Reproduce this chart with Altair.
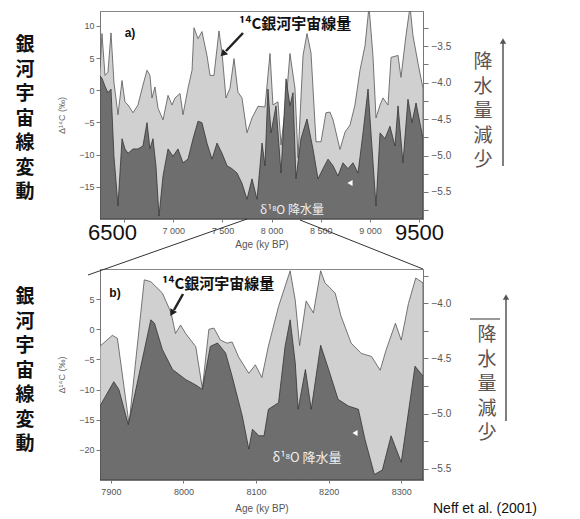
import altair as alt
import pandas as pd

# ---------------- data ----------------
a_c14_age = [6255, 6275, 6306, 6336, 6367, 6397, 6438, 6479, 6509, 6540, 6591, 6641, 6692, 6733, 6763,
             6784, 6814, 6845, 6896, 6947, 6987, 7018, 7069, 7099, 7150, 7191, 7211, 7252, 7292, 7343,
             7374, 7414, 7465, 7496, 7536, 7577, 7618, 7658, 7699, 7750, 7801, 7862, 7933, 7984, 8014,
             8065, 8096, 8147, 8187, 8238, 8269, 8320, 8360, 8401, 8452, 8503, 8553, 8594, 8625, 8696,
             8747, 8798, 8848, 8899, 8950, 8991, 9031, 9062, 9103, 9133, 9184, 9215, 9286, 9316, 9367,
             9408, 9438, 9489, 9540]
a_c14_val = [2.8, 8.8, 2.3, 2.8, 8.9, 1.2, -3.8, 1.5, -1.8, -2.3, -3.5, -2.3, 0.8, 3.1, 2.3,
             -1.2, 0.5, -2.8, -4.6, -0.8, -2.3, -1.2, -0.5, -3.8, 0.3, 3.1, 9.7, 8.0, 9.1, 5.4,
             2.3, 2.3, 9.2, 5.8, -1.2, 0.3, 4.9, -0.3, -1.2, -6.6, -4.3, -2.5, -2.6, 5.7, -2.3,
             -1.8, -8.5, -1.8, 5.7, 0.3, -10.5, 5.4, 8.8, 5.8, -8.0, -8.0, -3.5, -3.4, -4.6, -9.2,
             -6.5, -5.4, -2.3, 3.1, 6.9, 13.0, 5.4, -4.3, -2.3, -1.2, -2.3, 5.1, 5.4, 2.0, 8.5,
             13.0, 8.5, 4.2, 0.3]

a_o18_age = [6255, 6275, 6306, 6336, 6367, 6397, 6438, 6479, 6509, 6540, 6591, 6641, 6692, 6733, 6763,
             6794, 6824, 6855, 6896, 6947, 6997, 7048, 7099, 7150, 7201, 7252, 7292, 7343, 7394, 7445,
             7496, 7547, 7597, 7648, 7699, 7750, 7801, 7852, 7903, 7933, 7963, 7994, 8045, 8096, 8147,
             8187, 8218, 8248, 8299, 8360, 8421, 8472, 8523, 8574, 8625, 8675, 8726, 8777, 8828, 8879,
             8930, 8981, 9011, 9062, 9103, 9153, 9204, 9255, 9286, 9336, 9387, 9428, 9469, 9540]
a_o18_val = [-3.91, -3.94, -4.05, -4.14, -4.09, -5.01, -5.69, -4.77, -4.91, -4.97, -4.91, -4.91, -4.87, -4.55, -4.91,
             -4.77, -5.14, -5.83, -5.28, -4.91, -5.01, -4.91, -5.10, -5.05, -4.77, -4.53, -4.55, -4.83, -5.05, -4.83,
             -4.97, -5.14, -5.18, -5.24, -5.38, -5.60, -5.32, -5.60, -4.83, -5.14, -4.09, -4.69, -4.32, -5.24, -3.95,
             -4.32, -4.14, -5.32, -4.77, -4.50, -4.91, -5.32, -5.18, -5.05, -5.14, -5.28, -5.10, -5.18, -5.10, -5.24,
             -4.69, -4.09, -4.69, -5.69, -4.69, -4.77, -4.60, -4.87, -4.32, -5.10, -4.23, -4.55, -4.28, -4.77]

b_c14_age = [7885, 7902, 7909, 7925, 7946, 7955, 7971, 7983, 7989, 7996, 8003, 8017, 8026, 8035, 8042,
             8051, 8060, 8067, 8076, 8090, 8099, 8108, 8117, 8131, 8147, 8154, 8160, 8169, 8179, 8189,
             8195, 8209, 8217, 8231, 8245, 8259, 8271, 8279, 8292, 8300, 8310, 8320, 8330]
b_c14_val = [-2.8, -1.0, -1.5, -15.7, 8.2, 7.9, 6.0, 2.7, -0.7, 0.7, -0.7, -2.9, -9.8, 0.0, 0.2,
             -1.8, -2.3, -2.1, -4.6, -7.3, -5.9, -8.0, -2.8, 3.8, 9.7, 4.8, -2.7, 4.7, 2.7, 9.7,
             7.7, 6.0, 2.2, -2.3, -4.0, -4.5, -6.8, -3.5, 1.0, -1.8, 4.3, 8.5, 7.7]

b_o18_age = [7885, 7904, 7911, 7924, 7955, 7960, 7971, 7985, 8003, 8017, 8026, 8037, 8047, 8058, 8067,
             8081, 8090, 8095, 8104, 8111, 8117, 8131, 8140, 8147, 8154, 8158, 8168, 8176, 8189, 8200,
             8213, 8227, 8241, 8250, 8263, 8274, 8286, 8300, 8319, 8330]
b_o18_val = [-4.93, -4.71, -4.78, -5.10, -4.15, -4.18, -4.42, -4.60, -4.69, -4.74, -4.78, -4.39, -4.36, -4.45, -4.66,
             -5.02, -5.32, -5.14, -5.20, -5.20, -4.96, -4.90, -4.39, -4.15, -4.54, -4.96, -4.60, -4.96, -4.38, -4.60,
             -4.87, -4.93, -4.96, -5.23, -5.55, -5.51, -5.20, -5.44, -4.57, -4.66]

a_x_ticks = [6500, 7000, 7500, 8000, 8500, 9000, 9500]
b_x_ticks = [7900, 8000, 8100, 8200, 8300]
a_c14_ticks = [-15, -10, -5, 0, 5, 10]
b_c14_ticks = [-20, -15, -10, -5, 0, 5]
a_o18_ticks = [-5.75, -5.5, -5.25, -5.0, -4.75, -4.5, -4.25, -4.0, -3.75, -3.5, -3.25]
b_o18_ticks = [-5.5, -5.25, -5.0, -4.75, -4.5, -4.25, -4.0, -3.75]

label_cosmic = "銀\n河\n宇\n宙\n線\n変\n動"
label_precip = "降\n水\n量\n減\n少"
label_c14 = "¹⁴C銀河宇宙線量"
label_o18 = "δ¹⁸O 降水量"
label_axis_c14 = "Δ¹⁴C (‰)"
label_age = "Age (ky BP)"
label_source = "Neff et al. (2001)"

# ---------------- style ----------------
LIGHT_FILL, LIGHT_LINE = "#d0d0d0", "#555555"
DARK_FILL, DARK_LINE = "#6e6e6e", "#333333"
FONT = "Liberation Sans"
CJK = "Noto Sans CJK JP"
GREY = "#555555"


def txt(s, x, y, size, color="#111111", font=CJK, weight="normal", align="center",
        baseline="middle", line_height=None):
    kw = dict(fontSize=size, color=color, font=font, fontWeight=weight, align=align, baseline=baseline)
    if line_height:
        kw.update(lineBreak="\n", lineHeight=line_height)
    return alt.Chart(pd.DataFrame({"t": [s]})).mark_text(**kw).encode(
        x=alt.value(x), y=alt.value(y), text="t:N")


def seg(x1, y1, x2, y2, color="#222222", width=1.0):
    return alt.Chart(pd.DataFrame({"k": [0]})).mark_rule(color=color, strokeWidth=width).encode(
        x=alt.value(x1), y=alt.value(y1), x2=alt.value(x2), y2=alt.value(y2))


def head(x, y, angle, color="#222222", size=50, shape="triangle-up"):
    return alt.Chart(pd.DataFrame({"k": [0]})).mark_point(
        shape=shape, filled=True, color=color, size=size, angle=angle, opacity=1).encode(
        x=alt.value(x), y=alt.value(y))


def panel(c14_age, c14_val, o18_age, o18_val, xdom, xticks, xlabel_expr, big_test,
          c14dom, c14ticks, o18dom, o18ticks, W, H, title_y, extra):
    c14 = pd.DataFrame({"age": c14_age, "v": c14_val})
    o18 = pd.DataFrame({"age": o18_age, "v": o18_val})
    xaxis = alt.Axis(
        values=xticks, labelExpr=xlabel_expr, title=label_age, tickSize=3,
        labelFontSize={"condition": {"test": big_test, "value": 22}, "value": 9},
        labelColor={"condition": {"test": big_test, "value": "#111111"}, "value": GREY},
        labelPadding={"condition": {"test": big_test, "value": 0}, "value": 4},
        labelOffset={"condition": {"test": "datum.value == 6500", "value": -12}, "value": 0},
        labelOverlap=False, labelFlush=False,
        titleY=title_y, titleBaseline="middle", titleFontSize=10, titleColor=GREY,
        titleFontWeight="normal")
    x = alt.X("age:Q", scale=alt.Scale(domain=xdom, nice=False, zero=False), axis=xaxis)
    light = alt.Chart(c14).mark_area(
        fill=LIGHT_FILL, stroke=LIGHT_LINE, strokeWidth=0.8, clip=True).encode(
        x=x,
        y=alt.Y("v:Q", scale=alt.Scale(domain=c14dom, nice=False, zero=False),
                axis=alt.Axis(values=c14ticks, title=label_axis_c14, tickSize=4, labelFontSize=9,
                              labelColor=GREY, titleFontSize=9, titleColor="#666666",
                              titleFontWeight="normal", titlePadding=12)),
        y2=alt.datum(c14dom[0]))
    dark = alt.Chart(o18).mark_area(
        fill=DARK_FILL, stroke=DARK_LINE, strokeWidth=0.8, clip=True).encode(
        x=x,
        y=alt.Y("v:Q", scale=alt.Scale(domain=o18dom, nice=False, zero=False),
                axis=alt.Axis(orient="right", values=o18ticks, title=None, tickSize=5,
                              labelExpr="(datum.value * 2) % 1 == 0 ? format(datum.value, '.1f') : ''",
                              labelFontSize=10, labelColor=GREY, labelPadding=3)),
        y2=alt.datum(o18dom[0]))
    return alt.layer(light, dark, *extra).resolve_scale(y="independent").properties(width=W, height=H)


a_extra = [
    txt("a)", 30, 22, 12, font=FONT, weight="bold"),
    txt(label_c14, 195, 13, 15, weight="bold"),
    seg(143, 22, 126, 40, width=2.5), head(123, 43, 225, size=60),
    txt(label_o18, 192, 199, 12, color="#eeeeee"),
    head(250, 172, 0, color="#ffffff", size=35, shape="triangle-left"),
    txt(label_precip, 383, 42, 19, color="#5c5250", baseline="top", line_height=24.5),
    seg(403, 155, 403, 32, color=GREY, width=1.5), head(403, 30, 0, color=GREY, size=40),
    txt(label_cosmic, -75, 25, 19, weight="bold", baseline="top", line_height=24.5),
]
b_extra = [
    txt("b)", 15, 24, 12, font=FONT, weight="bold"),
    txt(label_c14, 118, 15, 15, weight="bold"),
    seg(83, 25, 74, 41, width=2.5), head(72, 44, 210, size=60),
    txt(label_o18, 207, 189, 13, color="#eeeeee"),
    head(255, 164, 0, color="#ffffff", size=35, shape="triangle-left"),
    txt(label_precip, 387, 57, 19, color="#5c5250", baseline="top", line_height=24.5),
    seg(370, 50, 400, 50, color=GREY, width=1.2),
    seg(406, 152, 406, 30, color=GREY, width=1.5), head(406, 28, 0, color=GREY, size=40),
    txt(label_cosmic, -75, 19, 19, weight="bold", baseline="top", line_height=24.5),
    txt(label_source, 333, 240, 14, font=FONT, align="left"),
    seg(147, -50, -12, 6, color="#333333", width=1), seg(200, -49, 323, 0, color="#333333", width=1),
]

big_a = "datum.value == 6500 || datum.value == 9500"
expr_a = ("datum.value == 6500 || datum.value == 9500 ? format(datum.value, 'd') : "
          "format(floor(datum.value / 1000), 'd') + ' ' + format(datum.value % 1000, '03d')")
expr_b = "format(datum.value, 'd')"

pa = panel(a_c14_age, a_c14_val, a_o18_age, a_o18_val, [6255, 9540], a_x_ticks, expr_a, big_a,
           [-20, 12.3], a_c14_ticks, [-5.87, -3.02], a_o18_ticks, 323, 208, 25, a_extra)
pb = panel(b_c14_age, b_c14_val, b_o18_age, b_o18_val, [7885, 8330], b_x_ticks, expr_b, "false",
           [-25, 10], b_c14_ticks, [-5.6, -3.69], b_o18_ticks, 323, 211, 28, b_extra)

chart = alt.vconcat(pa, pb, spacing=50, bounds="flush").properties(
    padding={"left": 6, "top": 2, "right": 5, "bottom": 5}, background="white"
).configure_axis(
    grid=False, domainColor="#777777", tickColor="#777777", labelFont=FONT, titleFont=FONT
).configure_view(stroke="#888888")

chart.save("out.html", embed_options={"renderer": "svg", "actions": False})
